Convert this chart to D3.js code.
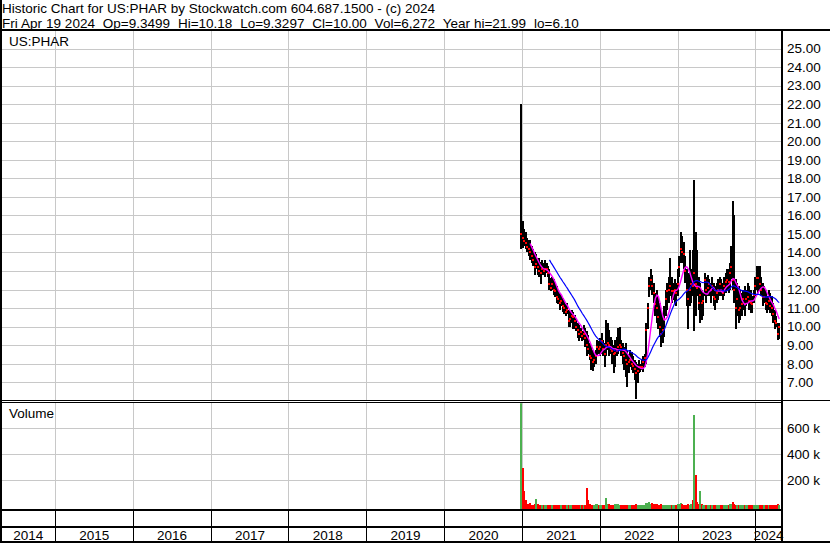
<!DOCTYPE html>
<html>
<head>
<meta charset="utf-8">
<script src="https://cdn.jsdelivr.net/npm/d3@7"></script>
<style>
  body { margin: 0; background: #fff; }
  svg { display: block; font-family: 'Liberation Sans', Arial, sans-serif; }
</style>
</head>
<body>
<svg id="chart" width="830" height="543"></svg>
<script>
'use strict';

const ticker = 'US:PHAR';
const titleLine = 'Historic Chart for US:PHAR by Stockwatch.com 604.687.1500 - (c) 2024';
const quoteFields = ['Fri Apr 19 2024', 'Op=9.3499', 'Hi=10.18', 'Lo=9.3297', 'Cl=10.00', 'Vol=6,272', 'Year hi=21.99', 'lo=6.10'];

const years = [2014, 2015, 2016, 2017, 2018, 2019, 2020, 2021, 2022, 2023, 2024];
const priceTicks = [7, 8, 9, 10, 11, 12, 13, 14, 15, 16, 17, 18, 19, 20, 21, 22, 23, 24, 25];
const volumeTicks = [200000, 400000, 600000];

// one entry per week, starting with the week of the listing
const firstWeek = new Date(2020, 11, 21);

const highs = [
  21.99, 15.7, 15.25, 15.1, 14.8, 14.7, 14.7, 14.35, 14.2, 14.0,
  13.9, 13.7, 13.7, 13.5, 13.6, 13.45, 13.6, 13.45, 13.25, 13.1,
  12.6, 12.7, 12.55, 12.35, 12.2, 12.0, 11.8, 11.7, 11.55, 11.45,
  11.2, 11.3, 10.9, 10.8, 10.9, 10.8, 10.65, 10.4, 10.2, 10.1,
  9.9, 9.75, 10.1, 9.9, 9.75, 9.55, 9.1, 8.9, 8.75, 8.55,
  8.75, 9.3, 9.2, 9.4, 9.65, 9.3, 9.1, 10.35, 10.2, 9.8,
  9.45, 9.3, 9.0, 9.3, 9.45, 9.9, 10.0, 9.3, 9.1, 8.9,
  9.1, 8.75, 8.55, 8.75, 8.65, 8.4, 8.2, 8.1, 8.0, 8.2,
  8.0, 8.2, 8.4, 8.55, 10.2, 11.3, 12.7, 13.1, 12.8, 12.35,
  11.8, 12.0, 11.65, 11.3, 10.9, 10.55, 11.1, 12.0, 12.35, 12.7,
  13.7, 12.7, 12.35, 12.55, 12.35, 13.1, 13.8, 15.1, 14.9, 14.55,
  13.8, 13.1, 12.9, 14.15, 13.1, 14.15, 17.92, 15.1, 14.15, 12.7,
  12.35, 12.0, 11.8, 12.9, 12.7, 12.8, 12.55, 12.35, 12.7, 12.35,
  12.2, 12.35, 12.55, 12.7, 12.55, 12.35, 12.7, 12.9, 13.1, 13.1,
  13.45, 14.35, 16.8, 16.0, 12.55, 12.35, 12.2, 12.0, 11.8, 12.0,
  12.2, 12.0, 12.35, 12.2, 12.0, 11.65, 12.0, 12.7, 13.25, 13.25,
  13.25, 12.7, 12.35, 12.2, 12.0, 11.65, 12.0, 11.8, 11.65, 11.3,
  10.9, 10.55, 10.2, 10.18,
];

const lows = [
  14.2, 14.25, 14.35, 14.2, 14.0, 13.8, 13.6, 13.45, 13.25, 12.8,
  13.1, 12.8, 12.7, 12.3, 12.8, 12.8, 12.7, 12.9, 12.7, 12.0,
  11.9, 12.0, 11.7, 11.6, 11.3, 11.2, 10.9, 11.1, 10.8, 10.7,
  10.55, 10.7, 10.0, 10.0, 10.2, 9.85, 9.85, 9.75, 9.4, 9.2,
  9.4, 9.2, 9.3, 8.9, 8.4, 8.55, 8.2, 7.65, 7.6, 7.85,
  8.0, 8.4, 8.55, 8.4, 8.55, 8.4, 7.85, 8.4, 8.75, 8.4,
  8.55, 8.0, 7.5, 7.85, 8.4, 8.55, 8.75, 8.4, 8.0, 7.65,
  7.3, 6.75, 7.5, 7.85, 7.65, 7.5, 7.1, 6.1, 6.95, 7.5,
  7.55, 7.65, 7.55, 7.85, 8.0, 9.85, 11.6, 12.0, 11.7, 11.3,
  10.55, 10.2, 9.85, 9.45, 8.9, 9.1, 9.45, 10.55, 10.9, 11.3,
  11.65, 11.3, 11.45, 11.3, 11.1, 11.65, 12.7, 13.45, 13.45, 13.1,
  12.35, 11.1, 9.85, 11.1, 11.3, 11.65, 9.74, 10.55, 11.65, 10.9,
  10.2, 10.35, 10.55, 11.65, 11.3, 11.65, 11.65, 11.3, 11.65, 11.1,
  10.9, 11.3, 11.45, 11.65, 11.65, 11.45, 11.65, 11.8, 12.0, 11.8,
  12.0, 12.55, 12.0, 11.3, 9.85, 10.55, 10.2, 10.35, 10.55, 10.9,
  10.55, 11.1, 11.3, 10.9, 10.75, 10.75, 11.3, 11.65, 12.0, 11.8,
  12.0, 11.65, 11.1, 11.3, 10.9, 10.75, 10.9, 10.75, 10.55, 10.2,
  9.85, 10.0, 9.3, 9.33,
];

const closes = [
  15.0, 14.8, 14.6, 14.5, 14.3, 14.2, 14.0, 13.8, 13.6, 13.2,
  13.4, 13.2, 13.0, 12.9, 13.1, 13.0, 13.1, 13.1, 12.9, 12.3,
  12.1, 12.3, 12.0, 11.9, 11.6, 11.5, 11.3, 11.4, 11.1, 11.0,
  10.8, 10.9, 10.3, 10.4, 10.6, 10.5, 10.3, 10.0, 9.8, 9.6,
  9.7, 9.5, 9.6, 9.4, 9.0, 8.8, 8.4, 8.3, 8.1, 8.2,
  8.4, 8.9, 8.8, 8.9, 9.2, 8.8, 8.5, 9.0, 9.1, 9.0,
  8.8, 8.7, 8.5, 8.6, 8.7, 8.9, 9.0, 8.9, 8.6, 8.4,
  8.2, 8.0, 8.1, 8.2, 8.0, 7.9, 7.7, 7.5, 7.6, 7.8,
  7.8, 7.8, 8.1, 8.3, 9.8, 11.0, 12.2, 12.5, 12.2, 11.8,
  11.2, 11.0, 10.5, 10.0, 9.6, 9.8, 10.4, 11.5, 11.9, 12.0,
  12.2, 11.9, 11.9, 12.0, 11.8, 12.3, 13.2, 14.2, 14.0, 13.9,
  13.0, 12.0, 11.5, 12.0, 12.3, 12.2, 12.9, 12.3, 12.1, 11.3,
  11.7, 11.3, 11.4, 12.5, 12.0, 12.1, 12.3, 12.0, 12.2, 11.6,
  11.5, 11.8, 12.0, 12.3, 12.0, 11.8, 12.2, 12.4, 12.5, 12.4,
  12.9, 13.2, 12.5, 12.0, 11.0, 11.5, 10.9, 11.0, 11.2, 11.5,
  11.2, 11.5, 11.6, 11.4, 11.3, 11.2, 11.7, 12.2, 12.6, 12.6,
  12.3, 12.0, 11.6, 11.6, 11.3, 11.2, 11.4, 11.1, 11.0, 10.7,
  10.3, 10.2, 9.6, 10.0,
];

// thousands of shares
const volumes = [
  1100, 297, 120, 46, 20, 15, 22, 10, 12, 18,
  54, 14, 10, 8, 12, 9, 10, 8, 7, 10,
  8, 9, 7, 10, 12, 9, 8, 11, 9, 8,
  10, 7, 9, 12, 8, 10, 7, 9, 11, 8,
  9, 10, 8, 12, 138, 46, 18, 12, 10, 9,
  14, 16, 12, 10, 8, 9, 11, 62, 20, 15,
  9, 12, 10, 14, 17, 20, 12, 10, 9, 11,
  13, 10, 12, 8, 10, 9, 11, 14, 12, 10,
  9, 12, 10, 11, 22, 28, 30, 20, 25, 18,
  15, 17, 12, 10, 14, 12, 9, 11, 10, 8,
  12, 9, 10, 8, 11, 14, 16, 22, 18, 12,
  10, 12, 14, 11, 18, 46, 700, 241, 30, 14,
  115, 20, 12, 10, 9, 11, 8, 10, 9, 12,
  10, 8, 9, 11, 10, 8, 9, 12, 10, 9,
  14, 16, 30, 20, 12, 9, 11, 10, 8, 9,
  10, 8, 9, 11, 10, 9, 8, 10, 12, 9,
  11, 10, 9, 8, 10, 11, 9, 12, 10, 11,
  12, 10, 14, 6.272,
];

const fastWindow = 7;
const slowWindow = 20;

const W = 830;
const H = 543;
const plotL = 1;
const plotR = 781;
const priceTop = 30;
const priceBot = 400.8;
const volTop = 402.3;
const volBot = 509;

const svg = d3.select('#chart');

const weeks = highs.map((h, i) => d3.timeWeek.offset(firstWeek, i));

const x = d3.scaleTime()
  .domain([new Date(2014, 3, 21), new Date(2024, 3, 28)])
  .range([plotL, plotR]);
const y = d3.scaleLinear().domain([6, 26]).range([priceBot, priceTop]);
const yVol = d3.scaleLinear().domain([0, 800000]).range([506.3, volTop]);

const px = (v) => Math.round(v) + 0.5;

const movingAverage = (values, n) =>
  values.map((v, i) => (i < n - 1 ? null : d3.mean(values.slice(i - n + 1, i + 1))));

svg.append('rect').attr('width', W).attr('height', H).attr('fill', '#fff');

// grid
const grid = svg.append('g').attr('stroke', '#c8c8c8').attr('stroke-width', 1);
grid.selectAll('.hgrid')
  .data(priceTicks.concat([26]))
  .join('line')
  .attr('x1', plotL)
  .attr('x2', plotR)
  .attr('y1', (d) => px(y(d)))
  .attr('y2', (d) => px(y(d)));
grid.selectAll('.vgrid')
  .data(volumeTicks)
  .join('line')
  .attr('class', 'vgrid')
  .attr('x1', plotL)
  .attr('x2', plotR)
  .attr('y1', (d) => px(yVol(d)))
  .attr('y2', (d) => px(yVol(d)));

const yearStarts = years.slice(1).map((yr) => new Date(yr, 0, 1));
grid.selectAll('.ygrid')
  .data(yearStarts)
  .join('path')
  .attr('d', (d) => {
    const xx = px(x(d) - 0.5);
    return `M${xx},${priceTop}V${priceBot}M${xx},${volTop}V${volBot}`;
  });

// price bars
svg.append('clipPath').attr('id', 'price-clip')
  .append('rect')
  .attr('x', plotL).attr('y', priceTop + 1)
  .attr('width', plotR - plotL).attr('height', priceBot - priceTop);

const price = svg.append('g').attr('clip-path', 'url(#price-clip)');

price.append('g')
  .attr('fill', '#000')
  .attr('shape-rendering', 'crispEdges')
  .selectAll('rect')
  .data(weeks)
  .join('rect')
  .attr('x', (d) => Math.round(x(d)))
  .attr('width', 2)
  .attr('y', (d, i) => y(highs[i]))
  .attr('height', (d, i) => Math.max(1, y(lows[i]) - y(highs[i])));

price.append('g')
  .attr('fill', '#ff0000')
  .attr('shape-rendering', 'crispEdges')
  .selectAll('rect')
  .data(weeks)
  .join('rect')
  .attr('x', (d) => Math.round(x(d)))
  .attr('y', (d, i) => Math.round(y(closes[i])) - 1)
  .attr('width', 2)
  .attr('height', 2);

const maLine = d3.line()
  .defined((d) => d[1] !== null)
  .x((d) => x(d[0]) + 1)
  .y((d) => y(d[1]));

price.append('path')
  .datum(weeks.map((d, i) => [d, movingAverage(closes, fastWindow)[i]]))
  .attr('fill', 'none')
  .attr('stroke', '#ff00ff')
  .attr('stroke-width', 1.4)
  .attr('d', maLine);

price.append('path')
  .datum(weeks.map((d, i) => [d, movingAverage(closes, slowWindow)[i]]))
  .attr('fill', 'none')
  .attr('stroke', '#0000ff')
  .attr('stroke-width', 1.2)
  .attr('d', maLine);

// volume bars, green on an up week and red on a down week
svg.append('clipPath').attr('id', 'vol-clip')
  .append('rect')
  .attr('x', plotL).attr('y', volTop + 1)
  .attr('width', plotR - plotL).attr('height', volBot - volTop);

svg.append('g')
  .attr('clip-path', 'url(#vol-clip)')
  .attr('shape-rendering', 'crispEdges')
  .selectAll('rect')
  .data(weeks)
  .join('rect')
  .attr('x', (d) => Math.round(x(d)))
  .attr('width', 2)
  .attr('y', (d, i) => Math.round(yVol(volumes[i] * 1000)))
  .attr('height', (d, i) => volBot - Math.round(yVol(volumes[i] * 1000)))
  .attr('fill', (d, i) => (i === 0 || closes[i] >= closes[i - 1] ? '#4cb050' : '#ff0000'));

// frame
const frame = svg.append('g').attr('fill', '#000').attr('shape-rendering', 'crispEdges');
const box = (x0, y0, w, h) => frame.append('rect').attr('x', x0).attr('y', y0).attr('width', w).attr('height', h);
box(0, 0, 2, H);
box(0, 29, W, 2);
box(plotR, 29, 2, H - 29);
box(0, 400, W, 1);
box(0, 402, plotR, 1);
box(0, 509, plotR, 2);
box(0, 526, plotR, 2);
box(0, 541, W, 2);

frame.selectAll('.sep')
  .data(yearStarts)
  .join('rect')
  .attr('x', (d) => Math.round(x(d) - 0.5))
  .attr('y', 509)
  .attr('width', 1)
  .attr('height', 32);

// text
const txt = svg.append('g').attr('fill', '#000').style('font-size', '13.5px');

txt.append('text').attr('x', 2).attr('y', 13).text(titleLine);
txt.append('text')
  .attr('x', 2)
  .attr('y', 27.5)
  .attr('xml:space', 'preserve')
  .style('white-space', 'pre')
  .style('word-spacing', '0.2px')
  .text(quoteFields.join('  '));

txt.append('text').attr('x', 9).attr('y', 46).text(ticker);
txt.append('text').attr('x', 9).attr('y', 418).text('Volume');

txt.selectAll('.plabel')
  .data(priceTicks)
  .join('text')
  .attr('x', 787)
  .attr('y', (d) => y(d) + 4.8)
  .text((d) => d3.format('.2f')(d));

txt.selectAll('.vlabel')
  .data(volumeTicks)
  .join('text')
  .attr('x', 787)
  .attr('y', (d) => yVol(d) + 4.8)
  .text((d) => d / 1000 + ' k');

txt.selectAll('.year')
  .data(years)
  .join('text')
  .attr('text-anchor', 'middle')
  .attr('x', (d) => {
    const a = Math.max(plotL, x(new Date(d, 0, 1)));
    const b = Math.min(plotR, x(new Date(d + 1, 0, 1)));
    return (a + b) / 2;
  })
  .attr('y', 539.5)
  .text((d) => d);
</script>
</body>
</html>
